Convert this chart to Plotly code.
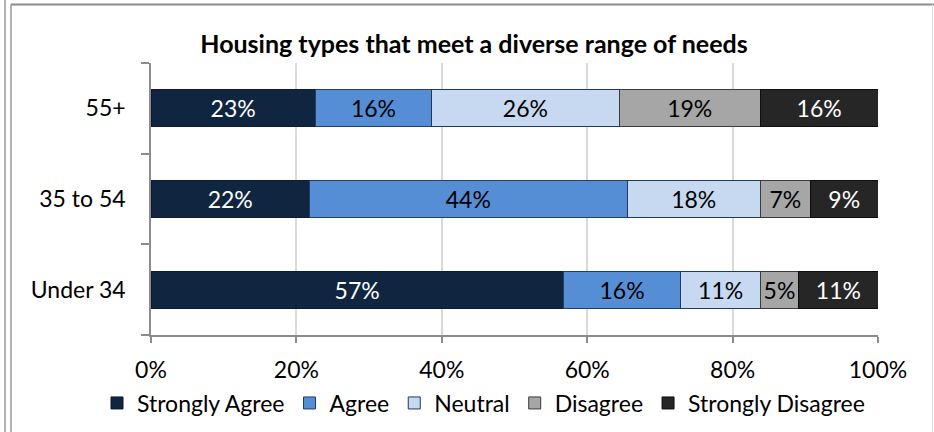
import plotly.graph_objects as go

# ============================ DATA ===============================
groups = ['55+', '35 to 54', 'Under 34']
series = ['Strongly Agree', 'Agree', 'Neutral', 'Disagree', 'Strongly Disagree']

strongly_agree = [22.6, 21.8, 56.7]
agree = [16.0, 43.7, 16.2]
neutral = [25.8, 18.3, 10.9]
disagree = [19.4, 6.9, 5.3]
strongly_disagree = [16.2, 9.3, 10.9]

x_ticks = [0, 20, 40, 60, 80, 100]
x_tick_labels = ['0%', '20%', '40%', '60%', '80%', '100%']

# ============================ STYLE ===============================
fill_colors = ['#10253F', '#558ED5', '#C6D9F1', '#A6A6A6', '#262626']
line_colors = ['#0B1A2E', '#1F3F66', '#1F3A5F', '#3A3A3A', '#0D0D0D']
text_colors = ['white', 'black', 'black', 'black', 'white']
FONT = 'Lato'

W, H = 934, 432
L, R, T, B = 151, 56, 63, 97
pw, ph = W - L - R, H - T - B


def px_x(x):
    return (x - L) / pw


def px_y(y):
    return (H - B - y) / ph


# ============================ PLOT ===============================
fig = go.Figure()
for name, vals, fc, lc, tc in zip(series,
                                  [strongly_agree, agree, neutral, disagree, strongly_disagree],
                                  fill_colors, line_colors, text_colors):
    fig.add_bar(
        y=groups, x=vals, name=name, orientation='h',
        marker=dict(color=fc, line=dict(color=lc, width=1)),
        texttemplate='%{x:.0f}%', textposition='inside', insidetextanchor='middle',
        textangle=0, constraintext='none',
        textfont=dict(family=FONT, size=23, color=tc),
        hoverinfo='skip'
    )

fig.update_layout(
    width=W, height=H,
    barmode='stack', bargap=0.59,
    paper_bgcolor='white', plot_bgcolor='white',
    margin=dict(l=L, r=R, t=T, b=B, autoexpand=False),
    font=dict(family=FONT, size=23, color='black'),
    title=dict(text='<b>Housing types that meet a diverse range of needs</b>',
               font=dict(family=FONT, size=25, color='black'),
               xref='container', x=474 / W, xanchor='center',
               yref='container', y=1 - 44 / H, yanchor='middle'),
    showlegend=True,
    # legend sits below the plot, anchored left of it so it can use one row
    legend=dict(orientation='h', xref='paper', xanchor='left', x=px_x(97),
                yref='paper', yanchor='middle', y=px_y(403),
                font=dict(family=FONT, size=23, color='black'),
                itemwidth=30, tracegroupgap=0, traceorder='normal',
                bgcolor='rgba(0,0,0,0)'),
    xaxis=dict(range=[0, 100], tickvals=x_ticks, ticktext=x_tick_labels,
               showgrid=True, gridcolor='#D9D9D9', gridwidth=1.5,
               showline=True, linecolor='#8C8C8C', linewidth=1.5,
               ticks='outside', ticklen=6, tickcolor='#8C8C8C', tickwidth=1.5,
               ticklabelstandoff=8, zeroline=False, fixedrange=True, automargin=False),
    yaxis=dict(type='category', categoryorder='array', categoryarray=groups[::-1],
               tickson='boundaries', showgrid=False,
               showline=True, linecolor='#8C8C8C', linewidth=1.5,
               ticks='outside', ticklen=8, tickcolor='#8C8C8C', tickwidth=1.5,
               ticklabelstandoff=19, fixedrange=True, automargin=False),
)

# outer frame lines
frame = dict(type='line', xref='paper', yref='paper')
fig.add_shape(**frame, x0=px_x(5), x1=px_x(5), y0=px_y(0), y1=px_y(H),
              line=dict(color='#9A9A9A', width=1.5))
fig.add_shape(**frame, x0=px_x(11), x1=px_x(11), y0=px_y(4.5), y1=px_y(H),
              line=dict(color='#9A9A9A', width=1.5))
fig.add_shape(**frame, x0=px_x(11), x1=px_x(W), y0=px_y(4.5), y1=px_y(4.5),
              line=dict(color='#8C8C8C', width=2))
fig.add_shape(**frame, x0=px_x(932.5), x1=px_x(932.5), y0=px_y(4.5), y1=px_y(H),
              line=dict(color='#E0E0E0', width=1))

# page body has a default 8px margin; remove it so the figure fills the window
fig.write_html('out.html', config={'displayModeBar': False},
               post_script="document.body.style.margin='0';")
